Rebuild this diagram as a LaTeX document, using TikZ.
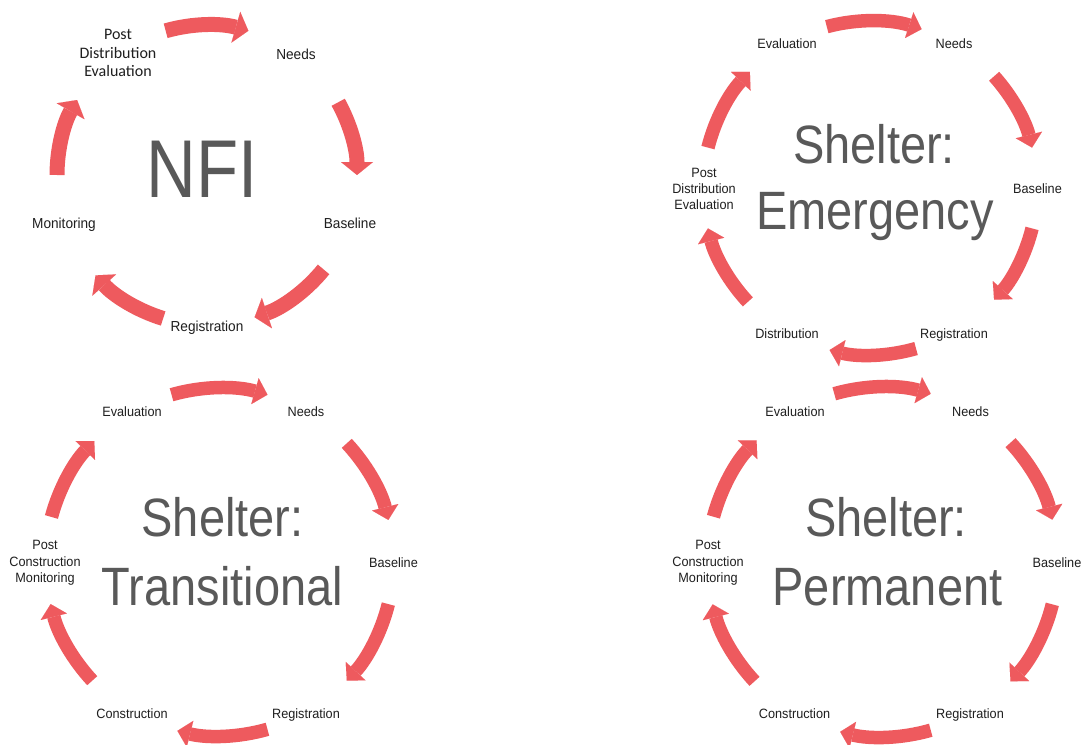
\documentclass[tikz,border=0pt]{standalone}
\usepackage{fontspec}
\setmainfont{Liberation Sans}
\newfontfamily\labfont[FakeStretch=0.94]{Liberation Sans}
\newfontfamily\calfont{Carlito}
\newfontfamily\nfifont[FakeStretch=0.84]{Liberation Sans}
\newfontfamily\shfont[FakeStretch=0.87]{Liberation Sans}
\usetikzlibrary{arrows.meta,calc}
\definecolor{cycred}{HTML}{EE5A5E}
\definecolor{titlegray}{HTML}{595959}
\definecolor{labelblack}{HTML}{1F1F1F}
\newcommand\cycarc[5]{\draw[#1] ($(#2)+(#4:#3)$) arc[start angle=#4,end angle=#5,radius=#3];}
\begin{document}
\begin{tikzpicture}[x=1pt,y=-1pt,
  bigarr/.style={draw=cycred,line width=15pt,line cap=butt,-{Triangle[length=13pt,width=32pt,line width=0.01pt]}},
  smallarr/.style={draw=cycred,line width=13.5pt,line cap=butt,-{Triangle[length=13pt,width=27pt,line width=0.01pt]}},
  lab/.style={font=\labfont\fontsize{13.5}{16.3}\selectfont,text=labelblack,inner sep=0pt,align=center,anchor=base},
  nfilab/.style={lab,font=\labfont\fontsize{14.5}{17}\selectfont},
  ttl/.style={font=\shfont\fontsize{54}{66}\selectfont,text=titlegray,inner sep=0pt,anchor=base}]
\useasboundingbox (0,0) rectangle (1081,744);
\fill[white] (0,0) rectangle (1081,744);
% centres
\coordinate (c1) at (207,175);
\coordinate (c2) at (870,188);
\coordinate (c3) at (219.5,562);
\coordinate (c4) at (882.5,562);
% ---------- NFI ----------
\node[ttl,font=\nfifont\fontsize{82}{90}\selectfont] (t1) at (202,197) {NFI};
\node[nfilab] (n1a) at (296,59) {Needs};
\node[nfilab] (n1b) at (350,228) {Baseline};
\node[nfilab] (n1c) at (207,331) {Registration};
\node[nfilab] (n1d) at (64,228) {Monitoring};
\node[text=labelblack,inner sep=0pt,align=center,font=\calfont\fontsize{16}{18.5}\selectfont] (n1e) at (118,53) {Post\\Distribution\\Evaluation};
\cycarc{bigarr}{c1}{150}{254}{286}
\cycarc{bigarr}{c1}{150}{331}{360}
\cycarc{bigarr}{c1}{150}{39}{71.5}
\cycarc{bigarr}{c1}{150}{107}{138}
\cycarc{bigarr}{c1}{150}{180}{210}
% ---------- Emergency ----------
\node[ttl] (t2a) at (874,163) {Shelter:};
\node[ttl] (t2b) at (875,229) {Emergency};
\node[lab] (n2a) at (787,48) {Evaluation};
\node[lab] (n2b) at (954,48) {Needs};
\node[lab] (n2c) at (1037.5,193) {Baseline};
\node[lab] (n2d) at (954,338) {Registration};
\node[lab] (n2e) at (787,338) {Distribution};
\node[lab,anchor=center] (n2f) at (704,189) {Post\\Distribution\\Evaluation};
\cycarc{smallarr}{c2}{167}{255}{288}
\cycarc{smallarr}{c2}{167}{318}{346}
\cycarc{smallarr}{c2}{167}{14}{42}
\cycarc{smallarr}{c2}{167}{74}{104}
\cycarc{smallarr}{c2}{167}{137}{166}
\cycarc{smallarr}{c2}{167}{194}{224}
% ---------- Transitional ----------
\node[ttl] (t3a) at (222.5,536) {Shelter:};
\node[ttl] (t3b) at (222.5,605) {Transitional};
\node[lab] (n3a) at (132,416) {Evaluation};
\node[lab] (n3b) at (306,416) {Needs};
\node[lab] (n3c) at (393.5,567) {Baseline};
\node[lab] (n3d) at (306,718) {Registration};
\node[lab] (n3e) at (132,718) {Construction};
\node[lab,anchor=center] (n3f) at (45,563) {Post\\Construction\\Monitoring};
\cycarc{smallarr}{c3}{174}{254}{286}
\cycarc{smallarr}{c3}{174}{317}{346}
\cycarc{smallarr}{c3}{174}{14}{43}
\cycarc{smallarr}{c3}{174}{74}{104}
\cycarc{smallarr}{c3}{174}{137}{166}
\cycarc{smallarr}{c3}{174}{195}{224}
% ---------- Permanent ----------
\node[ttl] (t4a) at (886,536) {Shelter:};
\node[ttl] (t4b) at (887.5,605) {Permanent};
\node[lab] (n4a) at (795,416) {Evaluation};
\node[lab] (n4b) at (970.5,416) {Needs};
\node[lab] (n4c) at (1057,567) {Baseline};
\node[lab] (n4d) at (970,718) {Registration};
\node[lab] (n4e) at (794.5,718) {Construction};
\node[lab,anchor=center] (n4f) at (708,563) {Post\\Construction\\Monitoring};
\cycarc{smallarr}{c4}{175}{254}{286}
\cycarc{smallarr}{c4}{175}{317}{346}
\cycarc{smallarr}{c4}{175}{14}{43}
\cycarc{smallarr}{c4}{175}{74}{104}
\cycarc{smallarr}{c4}{175}{137}{166}
\cycarc{smallarr}{c4}{175}{195}{224}
\end{tikzpicture}
\end{document}
